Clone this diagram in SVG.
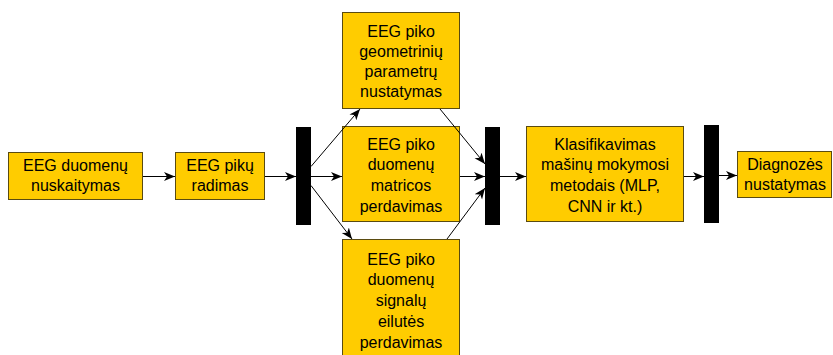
<svg xmlns="http://www.w3.org/2000/svg" width="833" height="355" viewBox="0 0 833 355">
<style>
.box{fill:#FFCC00;stroke:#5a4b10;stroke-width:1}
.bar{fill:#000}
.t{font-family:"Liberation Sans",Arial,sans-serif;font-size:16px;fill:#000;text-anchor:middle}
.c{stroke:#000;stroke-width:1;fill:none;marker-end:url(#ah)}
</style>
<defs>
<marker id="ah" markerUnits="userSpaceOnUse" markerWidth="12" markerHeight="10" viewBox="0 0 12 10" refX="11" refY="5" orient="auto">
<path d="M0,0.5 L11,5 L0,9.5 L3,5 Z" fill="#000"/>
</marker>
</defs>
<g id="n1"><rect class="box" x="8.5" y="152.5" width="134" height="47"/>
<text class="t" x="75.5" y="171">EEG duomenų</text><text class="t" x="75.5" y="191">nuskaitymas</text></g>
<g id="n2"><rect class="box" x="175.5" y="152.5" width="89" height="47"/>
<text class="t" x="220" y="171">EEG pikų</text><text class="t" x="220" y="191">radimas</text></g>
<g id="bar1"><rect class="bar" x="296" y="127" width="15" height="98"/></g>
<g id="n3"><rect class="box" x="342.5" y="12.5" width="117" height="96"/>
<text class="t" x="401" y="37">EEG piko</text><text class="t" x="401" y="57">geometrinių</text><text class="t" x="401" y="77">parametrų</text><text class="t" x="401" y="97">nustatymas</text></g>
<g id="n4"><rect class="box" x="342.5" y="126.5" width="117" height="95"/>
<text class="t" x="401" y="150">EEG piko</text><text class="t" x="401" y="170">duomenų</text><text class="t" x="401" y="191">matricos</text><text class="t" x="401" y="212">perdavimas</text></g>
<g id="n5"><rect class="box" x="342.5" y="239.5" width="117" height="125"/>
<text class="t" x="401" y="265">EEG piko</text><text class="t" x="401" y="285">duomenų</text><text class="t" x="401" y="306">signalų</text><text class="t" x="401" y="327">eilutės</text><text class="t" x="401" y="348">perdavimas</text></g>
<g id="bar2"><rect class="bar" x="485" y="127" width="15" height="98"/></g>
<g id="n6"><rect class="box" x="526.5" y="126.5" width="157" height="95"/>
<text class="t" x="605" y="150">Klasifikavimas</text><text class="t" x="605" y="170">mašinų mokymosi</text><text class="t" x="605" y="191">metodais (MLP,</text><text class="t" x="605" y="212">CNN ir kt.)</text></g>
<g id="bar3"><rect class="bar" x="704" y="125" width="15" height="98"/></g>
<g id="n7"><rect class="box" x="737.5" y="151.5" width="94" height="46"/>
<text class="t" x="785" y="170">Diagnozės</text><text class="t" x="785" y="190">nustatymas</text></g>
<g id="connectors">
<line class="c" x1="143" y1="176.5" x2="175" y2="176.5"/>
<line class="c" x1="265" y1="176.5" x2="296" y2="176.5"/>
<line class="c" x1="311" y1="176.5" x2="342" y2="176.5"/>
<line class="c" x1="311" y1="166.5" x2="360" y2="109"/>
<line class="c" x1="311" y1="185.5" x2="352" y2="239"/>
<line class="c" x1="440" y1="109" x2="485" y2="164"/>
<line class="c" x1="460" y1="176.5" x2="485" y2="176.5"/>
<line class="c" x1="447" y1="239" x2="485" y2="188"/>
<line class="c" x1="500" y1="176.5" x2="526" y2="176.5"/>
<line class="c" x1="684" y1="176.5" x2="704" y2="176.5"/>
<line class="c" x1="719" y1="175.5" x2="737" y2="175.5"/>
</g>
</svg>
